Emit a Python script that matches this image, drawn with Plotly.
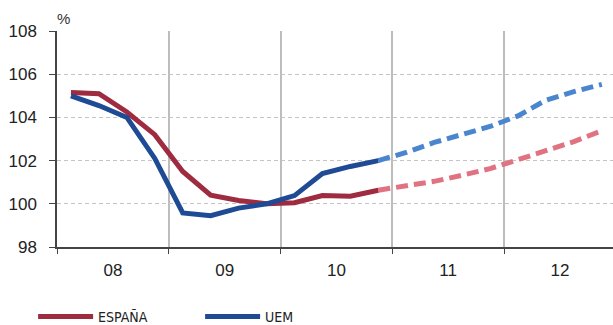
import plotly.graph_objects as go

years = ["08", "09", "10", "11", "12"]
quarters = [f"{y}Q{q}" for y in years for q in range(1, 5)]

# España (observed then forecast)
espana_obs = [105.15, 105.1, 104.25, 103.2, 101.5, 100.4, 100.15, 100.0, 100.05, 100.38, 100.35, 100.63]
espana_fc = [100.63, 100.82, 101.04, 101.32, 101.63, 102.04, 102.47, 102.88, 103.38]
# UEM (observed then forecast)
uem_obs = [105.0, 104.55, 104.0, 102.1, 99.58, 99.45, 99.8, 100.0, 100.38, 101.4, 101.73, 102.0]
uem_fc = [102.0, 102.38, 102.84, 103.24, 103.58, 104.07, 104.8, 105.19, 105.53]

yticks = [98, 100, 102, 104, 106, 108]

xpos = [i + 0.5 for i in range(len(quarters))]
n_obs = len(espana_obs)
x_obs = xpos[:n_obs]
x_fc = xpos[n_obs - 1:]

RED = "#9E2B40"
BLUE = "#1F4A94"
RED_FC = "#E07282"
BLUE_FC = "#4A86CF"

fig = go.Figure()
fig.add_trace(go.Scatter(x=x_fc, y=espana_fc, mode="lines", showlegend=False,
                         line=dict(color=RED_FC, width=5, dash="12px,6px")))
fig.add_trace(go.Scatter(x=x_fc, y=uem_fc, mode="lines", showlegend=False,
                         line=dict(color=BLUE_FC, width=5, dash="12px,6px")))
fig.add_trace(go.Scatter(x=x_obs, y=espana_obs, mode="lines", name="ESPAÑA",
                         line=dict(color=RED, width=5)))
fig.add_trace(go.Scatter(x=x_obs, y=uem_obs, mode="lines", name="UEM",
                         line=dict(color=BLUE, width=5)))

fig.update_layout(
    width=613, height=325,
    margin=dict(l=57, r=0, t=31, b=78, autoexpand=False),
    paper_bgcolor="white", plot_bgcolor="white",
    font=dict(family="Liberation Sans, Arial, sans-serif", size=17, color="#222"),
    legend=dict(orientation="h", xref="container", yref="paper",
                x=0.054, y=-0.324, xanchor="left", yanchor="middle",
                font=dict(family="Liberation Sans Narrow, DejaVu Sans Condensed, Liberation Sans",
                          size=14, color="#222"),
                entrywidth=97, itemwidth=55, traceorder="normal"),
    annotations=[dict(text="%", xref="paper", yref="paper", x=0.0, y=1.0,
                      xanchor="left", yanchor="bottom", showarrow=False,
                      font=dict(size=15, color="#333"), xshift=-2, yshift=2)],
)

fig.update_xaxes(
    range=[0, 19.9], automargin=False,
    tickmode="array", tickvals=[2 + 4 * i for i in range(len(years))], ticktext=years,
    ticks="", showgrid=False, zeroline=False,
    showline=True, linecolor="#444", linewidth=1.5,
    tickfont=dict(size=17), ticklabelstandoff=7,
    minor=dict(tickmode="array", tickvals=[4 * i for i in range(len(years) + 1)],
               ticks="outside", ticklen=5, tickcolor="#444",
               showgrid=True, gridcolor="#BDBDBD", gridwidth=1.5),
)
fig.update_yaxes(
    range=[98, 108], tickvals=yticks, automargin=False,
    ticks="outside", ticklen=6, tickcolor="#444",
    showline=True, linecolor="#444", linewidth=1.5,
    showgrid=True, gridcolor="#C4C4C4", gridwidth=1, griddash="4px,3px",
    zeroline=False, tickfont=dict(size=17), ticklabelstandoff=9,
)

fig.write_html("out.html", config={"displayModeBar": False},
               post_script="document.body.style.margin='0';")
